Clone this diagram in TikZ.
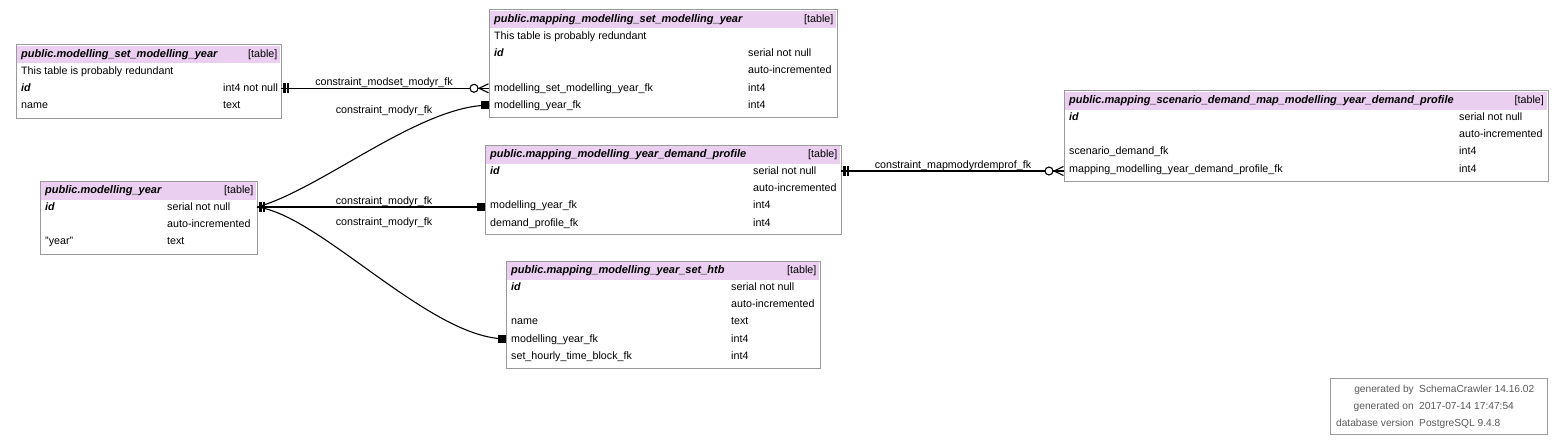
\documentclass[tikz,border=0pt]{standalone}
\usepackage{fontspec}
\setmainfont{Liberation Sans}
\definecolor{hdrpink}{HTML}{EBCFF1}
\definecolor{framegray}{HTML}{9A9A9A}
\definecolor{footgray}{HTML}{5A5A5A}
\newcommand\cellfont{\fontsize{10.7}{12}\selectfont}
\newcommand\headfont{\fontsize{11}{12}\selectfont\bfseries\itshape}
\newcommand\footfont{\fontsize{10.2}{12}\selectfont}
\tikzset{
  tframe/.style={draw=framegray, line width=1pt, fill=white, inner sep=0pt, outer sep=0pt, anchor=north west},
  thead/.style={fill=hdrpink, inner sep=0pt, outer sep=0pt, anchor=north west},
  cell/.style={anchor=west, inner sep=0pt, text height=7.5pt, text depth=1.2pt, font=\cellfont},
  cellr/.style={cell, anchor=east},
  keyc/.style={font=\cellfont\bfseries\itshape},
  htitle/.style={cell, font=\headfont},
  fcell/.style={cell, text=footgray, font=\footfont},
  conn/.style={line width=1.1pt, black},
  pics/teetee/.style={code={\fill[black] (2,-5) rectangle (4.5,5); \fill[black] (5.5,-5) rectangle (8,5);}},
  pics/crowodot/.style={code={
     \draw[line width=1.1pt, fill=white] (-15,0) circle (4pt);
     \draw[line width=1.1pt] (-0.5,-4.5) -- (-10,0) -- (-0.5,4.5);
     \draw[line width=1.1pt] (-10,0) -- (0,0);}},
  pics/sqbox/.style={code={\fill[black] (-8,-4) rectangle (0,4);}},
  lbl/.style={cell, anchor=center}
}
\begin{document}
\begin{tikzpicture}[x=1pt,y=-1pt]
\useasboundingbox (0,0) rectangle (1564,444);
\fill[white] (0,0) rectangle (1564,444);

% ---- table 1: public.modelling_set_modelling_year
\node[tframe, minimum width=265pt, minimum height=73pt] (t1) at (16,45) {};
\node[thead, minimum width=263pt, minimum height=17.5pt] (t1h) at (17,46) {};
\node[htitle] (t1n) at (21,54.5) {public.modelling\_set\_modelling\_year};
\node[cellr] (t1t) at (277.5,54.5) {[table]};
\node[cell] (t1r1) at (21,71) {This table is probably redundant};
\node[cell,keyc] (t1r2) at (21,88.3) {id};
\node[cell] (t1r2b) at (223,88.3) {int4 not null};
\node[cell] (t1r3) at (21,105.6) {name};
\node[cell] (t1r3b) at (223,105.6) {text};

% ---- table 2: public.mapping_modelling_set_modelling_year
\node[tframe, minimum width=348pt, minimum height=107pt] (t2) at (489,10) {};
\node[thead, minimum width=346pt, minimum height=17.5pt] (t2h) at (490,11) {};
\node[htitle] (t2n) at (494,19.5) {public.mapping\_modelling\_set\_modelling\_year};
\node[cellr] (t2t) at (833.5,19.5) {[table]};
\node[cell] (t2r1) at (494,36) {This table is probably redundant};
\node[cell,keyc] (t2r2) at (494,53.3) {id};
\node[cell] (t2r2b) at (748,53.3) {serial not null};
\node[cell] (t2r3b) at (748,70.6) {auto-incremented};
\node[cell] (t2r4) at (494,87.9) {modelling\_set\_modelling\_year\_fk};
\node[cell] (t2r4b) at (748,87.9) {int4};
\node[cell] (t2r5) at (494,105.2) {modelling\_year\_fk};
\node[cell] (t2r5b) at (748,105.2) {int4};

% ---- table 3: public.modelling_year
\node[tframe, minimum width=217pt, minimum height=73pt] (t3) at (40,181) {};
\node[thead, minimum width=215pt, minimum height=17.5pt] (t3h) at (41,182) {};
\node[htitle] (t3n) at (45,190.5) {public.modelling\_year};
\node[cellr] (t3t) at (253.5,190.5) {[table]};
\node[cell,keyc] (t3r1) at (45,207) {id};
\node[cell] (t3r1b) at (167,207) {serial not null};
\node[cell] (t3r2b) at (167,224.3) {auto-incremented};
\node[cell] (t3r3) at (45,241.6) {"year"};
\node[cell] (t3r3b) at (167,241.6) {text};

% ---- table 4: public.mapping_modelling_year_demand_profile
\node[tframe, minimum width=356pt, minimum height=89pt] (t4) at (485,145) {};
\node[thead, minimum width=354pt, minimum height=17.5pt] (t4h) at (486,146) {};
\node[htitle] (t4n) at (490,154.5) {public.mapping\_modelling\_year\_demand\_profile};
\node[cellr] (t4t) at (837.5,154.5) {[table]};
\node[cell,keyc] (t4r1) at (490,171) {id};
\node[cell] (t4r1b) at (753,171) {serial not null};
\node[cell] (t4r2b) at (753,188.3) {auto-incremented};
\node[cell] (t4r3) at (490,205.6) {modelling\_year\_fk};
\node[cell] (t4r3b) at (753,205.6) {int4};
\node[cell] (t4r4) at (490,222.9) {demand\_profile\_fk};
\node[cell] (t4r4b) at (753,222.9) {int4};

% ---- table 5: public.mapping_scenario_demand_map_modelling_year_demand_profile
\node[tframe, minimum width=484pt, minimum height=90pt] (t5) at (1064,91) {};
\node[thead, minimum width=482pt, minimum height=17.5pt] (t5h) at (1065,92) {};
\node[htitle] (t5n) at (1069,100.5) {public.mapping\_scenario\_demand\_map\_modelling\_year\_demand\_profile};
\node[cellr] (t5t) at (1544,100.5) {[table]};
\node[cell,keyc] (t5r1) at (1069,117) {id};
\node[cell] (t5r1b) at (1459,117) {serial not null};
\node[cell] (t5r2b) at (1459,134.3) {auto-incremented};
\node[cell] (t5r3) at (1069,151.6) {scenario\_demand\_fk};
\node[cell] (t5r3b) at (1459,151.6) {int4};
\node[cell] (t5r4) at (1069,168.9) {mapping\_modelling\_year\_demand\_profile\_fk};
\node[cell] (t5r4b) at (1459,168.9) {int4};

% ---- table 6: public.mapping_modelling_year_set_htb
\node[tframe, minimum width=314pt, minimum height=107pt] (t6) at (506,261) {};
\node[thead, minimum width=312pt, minimum height=17.5pt] (t6h) at (507,262) {};
\node[htitle] (t6n) at (511,270.5) {public.mapping\_modelling\_year\_set\_htb};
\node[cellr] (t6t) at (816.5,270.5) {[table]};
\node[cell,keyc] (t6r1) at (511,287) {id};
\node[cell] (t6r1b) at (731,287) {serial not null};
\node[cell] (t6r2b) at (731,304.3) {auto-incremented};
\node[cell] (t6r3) at (511,321.6) {name};
\node[cell] (t6r3b) at (731,321.6) {text};
\node[cell] (t6r4) at (511,338.9) {modelling\_year\_fk};
\node[cell] (t6r4b) at (731,338.9) {int4};
\node[cell] (t6r5) at (511,356.2) {set\_hourly\_time\_block\_fk};
\node[cell] (t6r5b) at (731,356.2) {int4};

% ---- footer
\node[tframe, line width=0.8pt, minimum width=217pt, minimum height=56pt] (ft) at (1330,378) {};
\node[fcell, anchor=east] (f1a) at (1414,389) {generated by};
\node[fcell] (f1b) at (1419,389) {SchemaCrawler 14.16.02};
\node[fcell, anchor=east] (f2a) at (1414,406) {generated on};
\node[fcell] (f2b) at (1419,406) {2017-07-14 17:47:54};
\node[fcell, anchor=east] (f3a) at (1414,423) {database version};
\node[fcell] (f3b) at (1419,423) {PostgreSQL 9.4.8};

% ---- connectors
\draw[conn] (t1.east |- t1r2) -- (t2.west |- t1r2);
\draw[conn] (t3.east |- t3r1) .. controls (320,190) and (420,105.2) .. (t2.west |- t2r5);
\draw[conn] (t3.east |- t3r1) -- (t4.west |- t3r1);
\draw[conn] (t3.east |- t3r1) .. controls (320,215) and (430,338.9) .. (t6.west |- t6r4);
\draw[conn] (t4.east |- t4r1) -- (t5.west |- t4r1);

\pic at (t1.east |- t1r2) {teetee};
\pic at (t2.west |- t1r2) {crowodot};
\pic at (t3.east |- t3r1) {teetee};
\pic at (t2.west |- t2r5) {sqbox};
\pic at (t4.west |- t3r1) {sqbox};
\pic at (t6.west |- t6r4) {sqbox};
\pic at (t4.east |- t4r1) {teetee};
\pic at (t5.west |- t4r1) {crowodot};

% ---- connector labels
\node[lbl] (l1) at (384,82) {constraint\_modset\_modyr\_fk};
\node[lbl] (l2) at (384,110) {constraint\_modyr\_fk};
\node[lbl] (l3) at (384,201) {constraint\_modyr\_fk};
\node[lbl] (l4) at (384,222) {constraint\_modyr\_fk};
\node[lbl] (l5) at (953,165) {constraint\_mapmodyrdemprof\_fk};
\end{tikzpicture}
\end{document}
